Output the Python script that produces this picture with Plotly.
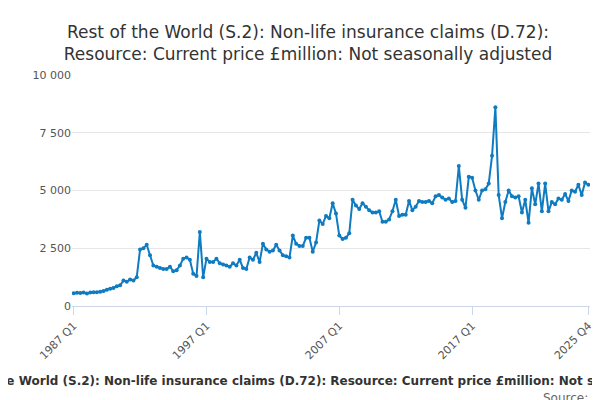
import plotly.graph_objects as go

years = list(range(1987, 2026))
values = [
 550,570,560,580, 540,580,600,600, 620,650,700,750, 780,850,900,1100,
 1050,1150,1100,1250, 2450,2500,2650,2200, 1750,1700,1650,1600, 1600,1700,1500,1550,
 1750,2050,2100,2000, 1400,1300,3200,1250, 2050,1900,1900,2050, 1850,1800,1750,1700,
 1850,1750,2000,1650, 1600,2100,2000,2300, 1900,2700,2450,2350, 2400,2650,2400,2200,
 2150,2100,3050,2700, 2600,2600,2950,2950, 2350,2750,3700,3550, 3900,3800,4450,4000,
 3050,2900,2950,3150, 4600,4350,4200,4450, 4300,4150,4050,4050, 4100,3650,3650,3750,
 4100,4600,3900,3950, 3950,4550,4150,4300, 4550,4500,4500,4550, 4450,4750,4800,4700,
 4600,4650,4500,4550, 6060,4600,4250,5600, 5550,5000,4600,5000, 5050,5300,6500,8600,
 4800,3800,4500,5000, 4750,4700,4750,4050, 4600,3600,5100,4400, 5300,4100,5300,4100,
 4500,4400,4650,4600, 4850,4550,5000,4950, 5250,4800,5350,5250,
]
labels = [f"{y} Q{q}" for y in years for q in range(1, 5)]
tick_labels = ["1987 Q1", "1997 Q1", "2007 Q1", "2017 Q1", "2025 Q4"]
title = "Rest of the World (S.2): Non-life insurance claims (D.72): Resource: Current price £million: Not seasonally adjusted"

fig = go.Figure(go.Scatter(x=labels, y=values, mode="lines+markers",
    line=dict(color="#0f7bc0", width=2), marker=dict(size=4, color="#0f7bc0")))
fig.update_layout(
    width=600, height=400, plot_bgcolor="white", paper_bgcolor="white",
    font=dict(family="DejaVu Sans", color="#333"),
    separators=". ",
    title=dict(text="Rest of the World (S.2): Non-life insurance claims (D.72):<br>Resource: Current price £million: Not seasonally adjusted",
               x=0.5, y=0.925, yanchor="middle", xanchor="center", font=dict(size=17, color="#333")),
    margin=dict(l=64, r=18, t=67, b=102),
    showlegend=False,
    xaxis=dict(type="category", tickvals=tick_labels, ticktext=tick_labels, tickangle=-45,
               showgrid=False, showline=True, linecolor="#ccd6eb", ticks="outside",
               ticklen=8, tickcolor="#ccd6eb", tickfont=dict(size=11, color="#555"),
               range=[-0.5, len(labels) - 0.5]),
    yaxis=dict(range=[0, 10000], tickvals=[0, 2500, 5000, 7500, 10000], tickformat=",d",
               gridcolor="#e6e6e6", zeroline=False, tickfont=dict(size=11, color="#555")),
    annotations=[
        dict(text=f"<b>{title}</b>", x=0.5, y=-0.325, xref="paper", yref="paper",
             showarrow=False, font=dict(size=12, color="#333"), xanchor="center", yanchor="middle"),
        dict(text="Source:", x=1.0, y=-0.4, xref="paper", yref="paper", showarrow=False,
             font=dict(size=12, color="#666"), xanchor="right", yanchor="middle"),
    ],
)
fig.write_html("out.html")
